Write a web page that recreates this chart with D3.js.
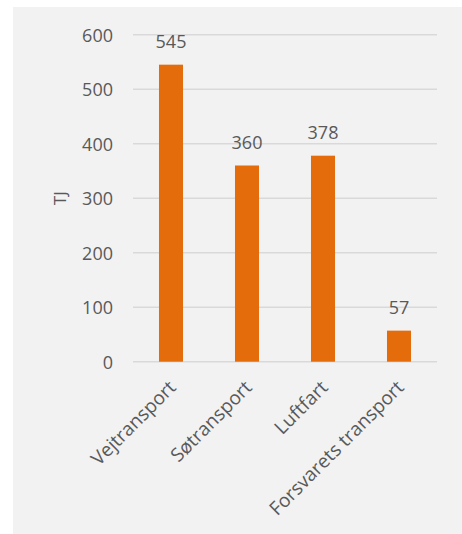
<!DOCTYPE html>
<html>
<head>
<meta charset="utf-8">
<script src="https://cdn.jsdelivr.net/npm/d3@7"></script>
<style>
  html, body { margin: 0; padding: 0; background: #ffffff; }
  svg { display: block; }
  text { font-family: "Open Sans", "Noto Sans", sans-serif; fill: #595959; }
</style>
</head>
<body>
<svg id="chart" width="462" height="534"></svg>
<script>
// Energy use in transport, TJ
const categories = ["Vejtransport", "Søtransport", "Luftfart", "Forsvarets transport"];
const values = [545, 360, 378, 57];
const yTicks = [0, 100, 200, 300, 400, 500, 600];
const yTitle = "TJ";

const W = 462, H = 534;
const panel = { x: 13, y: 7 };
const plot = { left: 133, right: 437, top: 34.7, bottom: 361.7 };

const svg = d3.select("#chart");

svg.append("rect")
  .attr("x", panel.x).attr("y", panel.y)
  .attr("width", W - panel.x).attr("height", H - panel.y)
  .attr("fill", "#f2f2f2");

const x = d3.scaleBand()
  .domain(categories)
  .range([plot.left, plot.right])
  .paddingInner(0.684)
  .paddingOuter(0.342);

const y = d3.scaleLinear()
  .domain([0, 600])
  .range([plot.bottom, plot.top]);

// gridlines
svg.append("g")
  .selectAll("line")
  .data(yTicks)
  .join("line")
  .attr("x1", plot.left).attr("x2", plot.right)
  .attr("y1", d => y(d)).attr("y2", d => y(d))
  .attr("stroke", "#d9d9d9")
  .attr("stroke-width", 1.5);

// y axis labels
const yAxis = d3.axisLeft(y).tickValues(yTicks).tickSize(0).tickPadding(0);
const gy = svg.append("g")
  .attr("transform", `translate(${plot.left - 20},0)`)
  .call(yAxis);
gy.select(".domain").remove();
gy.selectAll("text")
  .attr("font-size", 18)
  .attr("dy", "0.35em")
  .style("font-family", "'Open Sans', sans-serif")
  .attr("fill", "#595959");

// y axis title
svg.append("text")
  .attr("transform", `translate(66,${(plot.top + plot.bottom) / 2}) rotate(-90)`)
  .attr("text-anchor", "middle")
  .attr("font-size", 17)
  .text(yTitle);

// bars
svg.append("g")
  .selectAll("rect")
  .data(values)
  .join("rect")
  .attr("x", (d, i) => x(categories[i]))
  .attr("y", d => y(d))
  .attr("width", x.bandwidth())
  .attr("height", d => y(0) - y(d))
  .attr("fill", "#e46c0a");

// value labels
svg.append("g")
  .selectAll("text")
  .data(values)
  .join("text")
  .attr("x", (d, i) => x(categories[i]) + x.bandwidth() / 2)
  .attr("y", d => y(d) - 17)
  .attr("text-anchor", "middle")
  .attr("font-size", 18)
  .text(d => d);

// category labels
const xAxis = d3.axisBottom(x).tickSize(0).tickPadding(0);
const gx = svg.append("g")
  .attr("transform", `translate(0,${plot.bottom})`)
  .call(xAxis);
gx.select(".domain").remove();
gx.selectAll("text")
  .attr("font-size", 19)
  .style("font-family", "'Open Sans', sans-serif")
  .attr("fill", "#595959")
  .attr("text-anchor", "end")
  .attr("dy", null)
  .attr("y", 0)
  .attr("transform", "translate(6,27) rotate(-45)");
</script>
</body>
</html>
